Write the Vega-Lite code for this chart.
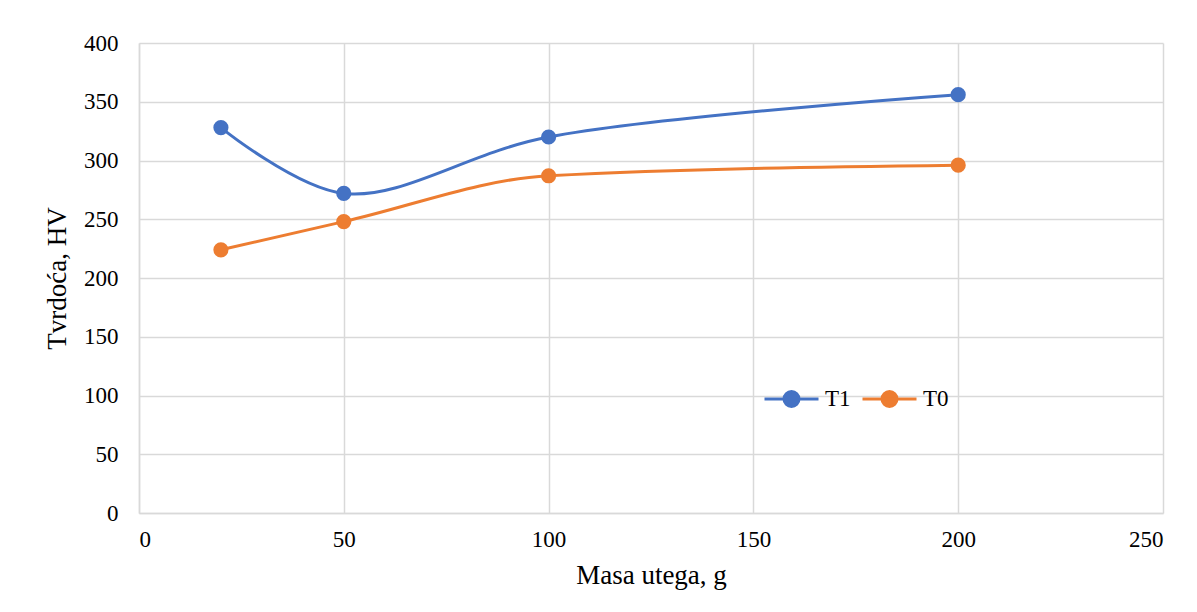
{
  "$schema": "https://vega.github.io/schema/vega-lite/v6.json",
  "width": 1024,
  "height": 470,
  "autosize": {"type": "none"},
  "padding": {"left": 139, "top": 43, "right": 34, "bottom": 99},
  "background": "white",
  "config": {
    "font": "Liberation Serif",
    "view": {"stroke": null},
    "axis": {
      "labelFont": "Liberation Serif",
      "titleFont": "Liberation Serif",
      "labelColor": "#000000",
      "titleColor": "#000000",
      "titleFontWeight": "normal",
      "gridColor": "#D9D9D9",
      "gridWidth": 1.5,
      "domainColor": "#D9D9D9",
      "domainWidth": 1.5,
      "ticks": false
    },
    "legend": {"labelFont": "Liberation Serif"}
  },
  "data": {
    "values": [
      {"masa": 20, "hv": 328, "serija": "T1"},
      {"masa": 50, "hv": 272, "serija": "T1"},
      {"masa": 100, "hv": 320, "serija": "T1"},
      {"masa": 200, "hv": 356, "serija": "T1"},
      {"masa": 20, "hv": 224, "serija": "T0"},
      {"masa": 50, "hv": 248, "serija": "T0"},
      {"masa": 100, "hv": 287, "serija": "T0"},
      {"masa": 200, "hv": 296, "serija": "T0"}
    ]
  },
  "encoding": {
    "x": {
      "field": "masa", "type": "quantitative",
      "scale": {"domain": [0, 250], "nice": false},
      "axis": {
        "values": [0, 50, 100, 150, 200, 250], "title": "Masa utega, g",
        "labelFontSize": 23, "titleFontSize": 27, "labelPadding": 15, "titlePadding": 11,
        "encode": {"labels": {"update": {"font": {"value": "Liberation Serif"}, "fontSize": {"value": 23}}}}
      }
    },
    "y": {
      "field": "hv", "type": "quantitative",
      "scale": {"domain": [0, 400], "nice": false},
      "axis": {
        "values": [0, 50, 100, 150, 200, 250, 300, 350, 400], "title": "Tvrdoća, HV",
        "labelFontSize": 23, "titleFontSize": 27, "labelPadding": 21, "titlePadding": 12,
        "encode": {"labels": {"update": {"font": {"value": "Liberation Serif"}, "fontSize": {"value": 23}}}}
      }
    },
    "color": {
      "field": "serija", "type": "nominal",
      "scale": {"domain": ["T1", "T0"], "range": ["#4472C4", "#ED7D31"]},
      "legend": {
        "title": null,
        "orient": "none",
        "legendX": 624,
        "legendY": 327,
        "direction": "horizontal",
        "labelFontSize": 23,
        "labelColor": "#000000",
        "labelOffset": 5,
        "columnPadding": 5,
        "symbolType": "M-1,0H1M0.278,0A0.278,0.278,0,1,1,-0.278,0A0.278,0.278,0,1,1,0.278,0Z",
        "symbolSize": 2916,
        "symbolStrokeWidth": 3,
        "encode": {
          "symbols": {
            "update": {
              "fill": {"scale": "color", "field": "value"},
              "stroke": {"scale": "color", "field": "value"},
              "strokeWidth": {"value": 3},
              "opacity": {"value": 1},
              "fillOpacity": {"value": 1}
            }
          },
          "labels": {"update": {"font": {"value": "Liberation Serif"}}}
        }
      }
    }
  },
  "layer": [
    {"transform": [{"filter": "datum.serija === 'T1'"}], "mark": {"type": "line", "interpolate": "catmull-rom", "strokeWidth": 3}},
    {"transform": [{"filter": "datum.serija === 'T0'"}], "mark": {"type": "line", "interpolate": "monotone", "strokeWidth": 3}},
    {"mark": {"type": "point", "filled": true, "size": 230, "opacity": 1, "shape": "circle"}}
  ]
}
